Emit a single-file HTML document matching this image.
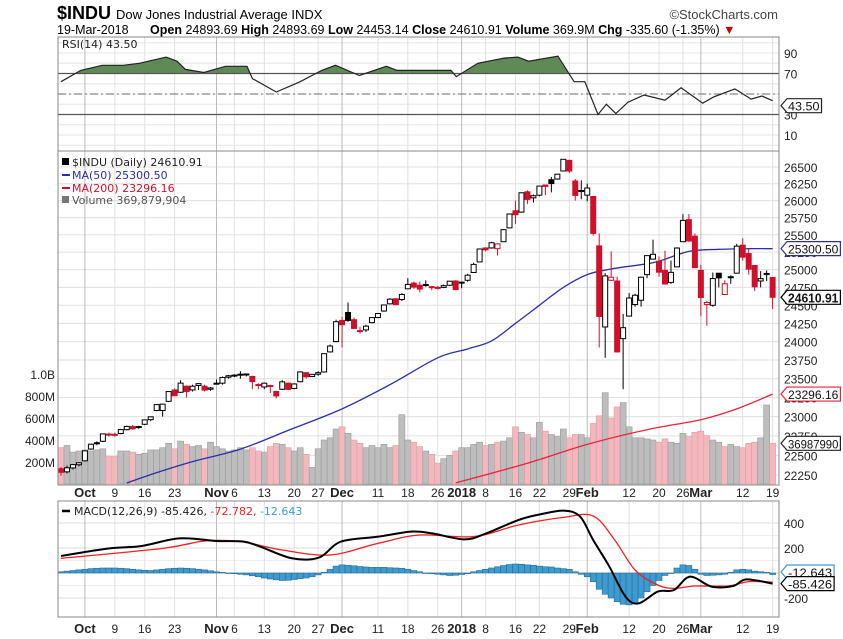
<!DOCTYPE html>
<html><head><meta charset="utf-8"><style>
html,body{margin:0;padding:0;background:#fff;}
svg{display:block;font-family:"Liberation Sans Narrow","Liberation Sans",sans-serif;}
.ax{font-size:12px;fill:#222;}
.lg{font-family:"DejaVu Sans",sans-serif;font-size:11px;}
</style></head><body>
<svg id="c" width="843" height="639" viewBox="0 0 843 639" xmlns="http://www.w3.org/2000/svg">
<text x="57" y="19" font-size="18" font-weight="bold">$INDU <tspan font-size="13" font-weight="normal">Dow Jones Industrial Average INDX</tspan></text>
<text x="778" y="19" font-size="13" text-anchor="end" fill="#444">©StockCharts.com</text>
<text x="57" y="34" font-size="12.5">19-Mar-2018 <tspan dx="18" font-weight="bold">Open</tspan> 24893.69 <tspan font-weight="bold">High</tspan> 24893.69 <tspan font-weight="bold">Low</tspan> 24453.14 <tspan font-weight="bold">Close</tspan> 24610.91 <tspan font-weight="bold">Volume</tspan> 369.9M <tspan font-weight="bold">Chg</tspan> -335.60 (-1.35%) <tspan fill="#c00">▼</tspan></text>
<g id="rsiG"></g>
<g id="mainG"></g>
<g id="macdG"></g>
</svg>
<script>
const opens=[22330,22290,22340,22380,22430,22580,22650,22680,22760,22770,22780,22830,22870,22860,22900,22960,23080,23080,23200,23350,23320,23400,23350,23410,23400,23360,23440,23440,23520,23540,23560,23550,23530,23420,23390,23400,23330,23360,23440,23370,23460,23580,23530,23560,23590,23860,24000,24290,24400,24300,24150,24160,24260,24330,24420,24520,24590,24580,24730,24810,24780,24790,24760,24750,24750,24780,24840,24810,24850,24960,25110,25310,25310,25300,25400,25600,25850,25830,26130,26040,26080,26230,26310,26320,26440,26600,26290,26140,26080,26060,25340,24200,24850,24840,24040,24350,24510,24570,24930,25150,25120,24990,24820,25040,25400,25720,25480,24990,24510,24500,24950,24650,24900,24950,25350,25230,25060,24840,24930,24890];
const highs=[22350,22370,22390,22410,22560,22650,22680,22780,22790,22790,22840,22880,22890,22880,22960,23000,23160,23170,23330,23370,23480,23410,23420,23440,23420,23390,23490,23530,23550,23560,23600,23570,23540,23440,23450,23420,23340,23480,23450,23440,23600,23590,23560,23600,23840,23960,24300,24340,24540,24330,24200,24230,24330,24390,24510,24600,24600,24670,24880,24830,24830,24850,24770,24770,24790,24840,24850,24830,24940,25100,25300,25320,25400,25380,25580,25810,26000,26120,26150,26090,26220,26230,26350,26400,26620,26610,26320,26300,26250,26070,25520,24950,25260,24900,24380,24670,24660,24900,25200,25430,25190,25270,25130,25320,25800,25800,25520,25070,24560,24960,24950,24850,24920,25370,25450,25300,25060,24980,24990,24890];
const lows=[22240,22270,22320,22360,22420,22570,22630,22670,22740,22740,22770,22820,22830,22840,22890,22940,23070,23000,23190,23270,23310,23250,23330,23350,23330,23340,23430,23420,23500,23520,23500,23530,23360,23360,23360,23310,23240,23350,23350,23360,23450,23500,23520,23540,23580,23850,23990,23920,24270,24170,24110,24130,24250,24320,24410,24510,24500,24560,24730,24730,24680,24760,24710,24720,24740,24770,24710,24740,24830,24960,25110,25260,25300,25200,25400,25600,25660,25820,25950,25970,26060,26080,26120,26310,26440,26410,26000,26020,25990,25490,23920,23780,24840,23850,23360,24350,24480,24480,24880,25150,24900,24790,24800,25040,25400,25400,25020,24350,24220,24480,24750,24640,24800,24950,25130,24930,24700,24750,24840,24450];
const closes=[22284,22341,22381,22405,22557,22642,22661,22775,22773,22761,22831,22872,22841,22871,22957,22997,23157,23163,23329,23274,23441,23329,23400,23434,23348,23377,23435,23516,23539,23548,23557,23563,23461,23422,23440,23409,23271,23458,23358,23430,23590,23526,23558,23580,23836,23940,24272,24231,24290,24180,24140,24211,24329,24386,24504,24585,24509,24651,24792,24754,24726,24782,24754,24746,24774,24837,24719,24824,24922,25075,25295,25283,25385,25369,25574,25803,25792,26115,26017,26071,26214,26210,26252,26392,26616,26439,26076,26149,26186,25520,24345,24912,24893,23860,24190,24601,24640,24893,25200,25219,24964,24797,24962,25309,25709,25410,25029,24608,24538,24874,24884,24801,24895,25336,25178,25007,24758,24873,24946,24611];
const volumes=[330,350,290,300,310,300,310,320,250,250,300,300,290,270,280,310,310,330,370,320,390,360,340,350,320,380,340,320,300,310,330,310,330,300,290,340,370,360,330,300,330,270,150,320,400,420,500,520,460,400,370,330,350,330,360,330,350,630,400,380,340,300,270,190,230,260,300,330,330,360,380,350,360,380,390,420,520,470,450,420,560,480,450,430,500,420,450,450,420,550,620,830,600,700,740,520,420,420,410,400,380,410,380,370,460,430,470,480,440,400,380,340,360,340,330,370,380,420,718,370];
const ma50Idx=[11,16,22,30,38,47,55,63,68,72,76,80,84,88,92,97,100,105,110,115,119];
const ma50Val=[22150,22280,22420,22580,22820,23100,23420,23780,23900,24010,24250,24500,24750,24930,25010,25070,25120,25260,25290,25300,25300];
const ma200Idx=[66,78,88,98,107,113,119];
const ma200Val=[22150,22400,22640,22830,22960,23100,23296];
const rsiIdx=[0,3.3,6.9,10.4,13.1,17.6,19.4,20.8,23.9,27.5,31.1,32,36,40,43.6,45.9,49.9,54.4,56.2,60.7,65.2,66.1,69.7,74.1,76.4,78.2,83.1,85.8,87.6,89.8,91.2,92.8,94.8,97.5,101,103.7,107.3,109.1,112.7,115.4,117.2,119];
const rsiVal=[62,73,78,78,80,86,82,74,71,77,77,65,52,62,73,78,68,77,73,73,73,67,80,85,86,82,87,62,62,30,40,31,42,49,44,56,41,47,55,45,48,43.5];
const macdIdx=[0,8.1,13.5,19.8,26.1,30.6,33.3,38.7,43.2,46.8,53.1,58.5,62.1,67.5,71.1,76.5,80.1,84.1,86.8,89,91.7,94.4,96.6,99.8,102.5,105.2,108.8,112.4,114.6,119];
const macdVal=[136,197,216,277,256,251,211,117,125,251,291,331,317,269,317,424,469,499,451,264,51,-189,-243,-149,-136,-29,-109,-104,-51,-85];
const sigIdx=[0,17,24,30,37,45,53,60,69,76.5,84,89,92.6,96,99.8,102.5,106,111.5,115,119];
const sigVal=[117,197,256,251,184,144,237,304,291,384,445,456,264,24,-96,-123,-104,-104,-69,-73];
const hist=[10,15,20,25,30,35,38,40,40,40,38,35,30,25,22,20,25,30,35,38,40,38,35,30,25,18,10,5,0,-5,-10,-15,-22,-30,-40,-48,-55,-60,-58,-52,-45,-40,-30,-15,5,30,55,65,62,58,52,48,45,45,45,42,40,38,30,20,10,0,-5,-10,-15,-20,-18,-12,-5,10,20,30,40,50,60,68,72,70,65,62,55,50,48,40,35,30,10,-10,-30,-70,-130,-170,-200,-230,-250,-255,-240,-200,-150,-100,-60,-20,0,40,65,60,30,-10,-20,-18,-15,-10,5,25,30,25,15,10,5,-12];
const priceTicks=[26500,26250,26000,25750,25500,25250,25000,24750,24500,24250,24000,23750,23500,23250,23000,22750,22500,22250];
const volTicks=[200,400,600,800,1000];
const volTickLabels=["200M","400M","600M","800M","1.0B"];
const rsiTicks=[90,70,50,30,10];
const macdTicks=[400,200,-200];
const xLabels=["Oct","9","16","23","Nov","6","13","20","27","Dec","11","18","26","2018","8","16","22","29","Feb","12","20","26","Mar","12","19"];
const xLabelIdx=[4,9,14,19,26,29,34,39,43,47,53,58,63,67,71,76,80,85,88,95,100,104,107,114,119];

const NS="http://www.w3.org/2000/svg";
const L=58,R=779;
function xI(i){return 61+i*5.98;}
const pT=167,pB=475,lnT=Math.log(26500),lnB=Math.log(22250);
function yP(p){return pT+(lnT-Math.log(p))/(lnT-lnB)*(pB-pT);}
function yV(v){return 484-v*0.11;}
function yR(v){return 94-(v-50)*1.025;}
function yM(v){return 573-v*0.125;}
function mk(par,tag,attrs,txt){const e=document.createElementNS(NS,tag);for(const k in attrs)e.setAttribute(k,attrs[k]);if(txt!==undefined)e.textContent=txt;par.appendChild(e);return e;}
function isMonth(s){return /[A-Za-z]/.test(s)||s==="2018";}
function vgrid(g,y1,y2){
  xLabelIdx.forEach((ix,k)=>{const l=mk(g,'line',{x1:xI(ix),x2:xI(ix),y1:y1,y2:y2,stroke:isMonth(xLabels[k])?'#bbb':'#e0e0e0','stroke-width':1});
  
  });
}
function xAxis(y,name){
  const g=document.getElementById('c');
  xLabels.forEach((s,k)=>{const t=mk(g,'text',{x:xI(xLabelIdx[k]),y:y,'text-anchor':'middle','font-size':isMonth(s)?13:12,'font-weight':isMonth(s)?'bold':'normal',fill:'#222'},s);
  
  });
}
function tag(g,y,txt,color,bold,name){
  const w=txt.length*6.3+3;
  const p=mk(g,'path',{d:`M${R+2} ${y} l6 -7 h${w} v14 h-${w} z`,fill:'#fff',stroke:color,'stroke-width':1.2});
  
  
  const t=mk(g,'text',{x:R+9,y:y+5,'font-size':bold?13:12,'font-weight':bold?'bold':'normal',fill:'#111',textLength:w-3,lengthAdjust:'spacingAndGlyphs'},txt);
  
  
}
function poly(idx,val,fy){return idx.map((ix,k)=>xI(ix).toFixed(1)+','+fy(val[k]).toFixed(1)).join(' ');}
function smooth(idx,val,fy){
  const P=idx.map((ix,k)=>[xI(ix),fy(val[k])]);
  let d='M'+P[0][0].toFixed(1)+' '+P[0][1].toFixed(1);
  for(let i=0;i<P.length-1;i++){
    const p0=P[Math.max(0,i-1)],p1=P[i],p2=P[i+1],p3=P[Math.min(P.length-1,i+2)];
    const c1=[p1[0]+(p2[0]-p0[0])/6,p1[1]+(p2[1]-p0[1])/6],c2=[p2[0]-(p3[0]-p1[0])/6,p2[1]-(p3[1]-p1[1])/6];
    d+=` C${c1[0].toFixed(1)} ${c1[1].toFixed(1)} ${c2[0].toFixed(1)} ${c2[1].toFixed(1)} ${p2[0].toFixed(1)} ${p2[1].toFixed(1)}`;
  }
  return d;
}

// RSI panel
(function(){
  const g=document.getElementById('rsiG');
  const T=37,B=151;
  for(let v=0;v<=100;v+=10){const y=yR(v);if(y>T&&y<B){const l=mk(g,'line',{x1:L,x2:R,y1:y,y2:y,stroke:'#e6e6e6'});}}
  vgrid(g,T,B);
  const defs=mk(g,'defs',{});const cp=mk(defs,'clipPath',{id:'above70'});mk(cp,'rect',{x:L,y:T,width:R-L,height:yR(70)-T});
  const pts=poly(rsiIdx,rsiVal,yR);
  const area=mk(g,'polygon',{points:xI(rsiIdx[0])+','+yR(70)+' '+pts+' '+xI(rsiIdx[rsiIdx.length-1])+','+yR(70),fill:'#5f8a58','clip-path':'url(#above70)'});
  
  
  [[70,'#555',''],[30,'#555',''],[50,'#888','8,3,2,3']].forEach(a=>{const l=mk(g,'line',{x1:L,x2:R,y1:yR(a[0]),y2:yR(a[0]),stroke:a[1],'stroke-width':1.3,'stroke-dasharray':a[2]});});
  const ln=mk(g,'polyline',{points:pts,fill:'none',stroke:'#222','stroke-width':1.2});
  
  
  const bd=mk(g,'rect',{x:L,y:T,width:R-L,height:B-T,fill:'none',stroke:'#888'});
  
  rsiTicks.forEach(v=>{if(v===50)return;const t=mk(g,'text',{x:R+5,y:yR(v)+5,class:'ax'},String(v));});
  tag(g,yR(43.5)+5,'43.50','#222',false,'rsi-value-tag');
  const lt=mk(g,'text',{x:62,y:48,class:'lg',fill:'#222','font-size':12},'RSI(14) 43.50');
  
})();

// Main panel
(function(){
  const g=document.getElementById('mainG');
  const T=151,B=485;
  priceTicks.forEach(p=>{const l=mk(g,'line',{x1:L,x2:R,y1:yP(p),y2:yP(p),stroke:'#e0e0e0'});});
  vgrid(g,T,B);
  volumes.forEach((v,i)=>{const up=i===0?false:closes[i]>=closes[i-1];
    const b=mk(g,'rect',{x:xI(i)-3,y:yV(v),width:6,height:484-yV(v),fill:up?'#bdbdbd':'#f2b8bd',stroke:up?'#999':'#e39aa2','stroke-width':0.6});
    
    });
  const m2=mk(g,'path',{d:smooth(ma200Idx,ma200Val,yP),fill:'none',stroke:'#e8233a','stroke-width':1.3});
  
  const m5=mk(g,'path',{d:smooth(ma50Idx,ma50Val,yP),fill:'none',stroke:'#2b2fa8','stroke-width':1.3});
  
  closes.forEach((c,i)=>{const o=opens[i];const up=i===0?false:c>=closes[i-1];const col=up?'#000':'#d0102a';
    const x=xI(i);
    const w=mk(g,'line',{x1:x,x2:x,y1:yP(highs[i]),y2:yP(lows[i]),stroke:col,'stroke-width':1});
    
    const yt=yP(Math.max(o,c)),yb=yP(Math.min(o,c));
    const r=mk(g,'rect',{x:x-2.5,y:yt,width:5,height:Math.max(1,yb-yt),fill:c<o?col:'#fff',stroke:col,'stroke-width':1});
    });
  const bd=mk(g,'rect',{x:L,y:T,width:R-L,height:B-T,fill:'none',stroke:'#888'});
  
  priceTicks.forEach(p=>{const t=mk(g,'text',{x:R+5,y:yP(p)+5,class:'ax'},String(p));});
  volTicks.forEach((v,k)=>{const t=mk(g,'text',{x:55,y:yV(v)+5,class:'ax','text-anchor':'end'},volTickLabels[k]);});
  tag(g,yV(volumes[119]),'36987990','#222',false,'volume-value-tag');
  tag(g,yP(ma200Val[ma200Val.length-1]),'23296.16','#e8233a',false,'ma200-value-tag');
  tag(g,yP(ma50Val[ma50Val.length-1]),'25300.50','#2b2fa8',false,'ma50-value-tag');
  tag(g,yP(closes[119]),'24610.91','#000',true,'close-value-tag');
  [['$INDU (Daily) 24610.91','#222',162],['MA(50) 25300.50','#2b2fa8',175],['MA(200) 23296.16','#d0102a',188],['Volume 369,879,904','#555',200]].forEach((a,k)=>{
    const t=mk(g,'text',{x:72,y:a[2]+4,class:'lg',fill:a[1]},a[0]);
    
    if(k===1||k===2){const s=mk(g,'line',{x1:62,x2:70,y1:a[2],y2:a[2],stroke:a[1],'stroke-width':2});}
    else{const s=mk(g,'rect',{x:62,y:a[2]-4,width:7,height:7,fill:k===0?'#000':'#777'});}
  });
})();
xAxis(497,'x-axis-label-top');

// MACD panel
(function(){
  const g=document.getElementById('macdG');
  const T=501,B=617;
  for(let v=-200;v<=400;v+=100){const l=mk(g,'line',{x1:L,x2:R,y1:yM(v),y2:yM(v),stroke:v%200===0?'#ddd':'#eee'});}
  vgrid(g,T,B);
  hist.forEach((h,i)=>{const y0=yM(0),y1=yM(h);
    const b=mk(g,'rect',{x:xI(i)-3,y:Math.min(y0,y1),width:6,height:Math.max(0.5,Math.abs(y1-y0)),fill:'#3d9bd0',stroke:'#2a6c94','stroke-width':0.6});
    
    });
  const s=mk(g,'path',{d:smooth(sigIdx,sigVal,yM),fill:'none',stroke:'#f02020','stroke-width':1.3});
  
  const m=mk(g,'path',{d:smooth(macdIdx,macdVal,yM),fill:'none',stroke:'#000','stroke-width':2});
  
  const bd=mk(g,'rect',{x:L,y:T,width:R-L,height:B-T,fill:'none',stroke:'#888'});
  
  macdTicks.forEach(v=>{const t=mk(g,'text',{x:R+5,y:yM(v)+5,class:'ax'},String(v));});
  tag(g,yM(0)-1,'-12.643','#3d9bd0',false,'macd-histogram-tag');
  tag(g,yM(-85),'-85.426','#000',false,'macd-value-tag');
  const sw=mk(g,'line',{x1:62,x2:70,y1:511,y2:511,stroke:'#000','stroke-width':2.5});
  
  const t=mk(g,'text',{x:74,y:515,class:'lg',fill:'#222'},'MACD(12,26,9) -85.426, ');
  
  mk(t,'tspan',{fill:'#f02020'},'-72.782, ');
  mk(t,'tspan',{fill:'#3d9bd0'},'-12.643');
})();
xAxis(633,'x-axis-label-bottom');
</script>
</body></html>
